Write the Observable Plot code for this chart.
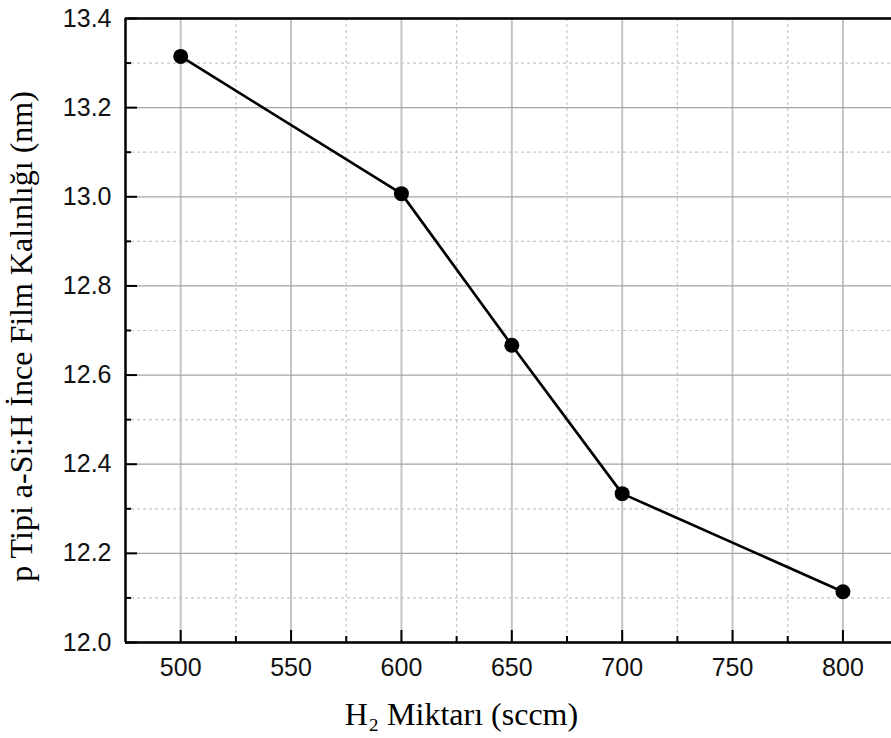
<!DOCTYPE html>
<html>
<head>
<meta charset="utf-8">
<script src="https://cdn.jsdelivr.net/npm/d3@7"></script>
<script src="https://cdn.jsdelivr.net/npm/@observablehq/plot@0.6"></script>
<style>
  html, body { margin: 0; padding: 0; background: #fff; }
</style>
</head>
<body>
<div id="chart"></div>
<script>
// H2 flow (sccm) and resulting p-type a-Si:H film thickness (nm)
const h2Flow = [500, 600, 650, 700, 800];
const filmThickness = [13.315, 13.007, 12.667, 12.334, 12.114];

// Axis ticks
const xMajorTicks = [500, 550, 600, 650, 700, 750, 800];
const xMinorTicks = [525, 575, 625, 675, 725, 775];
const yMajorTicks = [12.0, 12.2, 12.4, 12.6, 12.8, 13.0, 13.2, 13.4];
const yMinorTicks = [12.1, 12.3, 12.5, 12.7, 12.9, 13.1, 13.3];

const xTitle = "H\u2082 Miktarı (sccm)";
const yTitle = "p Tipi a-Si:H İnce Film Kalınlığı (nm)";

const rows = h2Flow.map((h, i) => ({h2: h, thickness: filmThickness[i]}));

const sans = "'Liberation Sans', Arial, sans-serif";
const serif = "'Liberation Serif', 'Times New Roman', serif";

const chart = Plot.plot({
  width: 891,
  height: 738,
  marginTop: 18,
  marginBottom: 96,
  marginLeft: 125,
  marginRight: 0,
  style: {background: "white", fontFamily: sans, overflow: "visible"},
  x: {domain: [475, 822], label: null},
  y: {domain: [12.0, 13.4], label: null},
  marks: [
    // minor grid
    Plot.gridX(xMinorTicks, {stroke: "#c8c8c8", strokeOpacity: 1, strokeWidth: 1.2, strokeDasharray: "3,3"}),
    Plot.gridY(yMinorTicks, {stroke: "#c8c8c8", strokeOpacity: 1, strokeWidth: 1.2, strokeDasharray: "3,3"}),
    // major grid
    Plot.gridX(xMajorTicks, {stroke: "#c4c4c4", strokeOpacity: 1, strokeWidth: 2}),
    Plot.gridY(yMajorTicks, {stroke: "#a4a4a4", strokeOpacity: 1, strokeWidth: 1.3}),
    // inward tick marks
    Plot.axisX(xMajorTicks, {tickSize: -12, tickFormat: () => "", strokeWidth: 2, stroke: "black", label: null}),
    Plot.axisX(xMinorTicks, {tickSize: -6, tickFormat: () => "", strokeWidth: 2, stroke: "black", label: null}),
    Plot.axisY(yMajorTicks, {tickSize: -12, tickFormat: () => "", strokeWidth: 2, stroke: "black", label: null}),
    Plot.axisY(yMinorTicks, {tickSize: -6, tickFormat: () => "", strokeWidth: 2, stroke: "black", label: null}),
    // tick labels
    Plot.axisX(xMajorTicks, {tickSize: 0, tickPadding: 16, fontSize: 25, fill: "#111", label: null}),
    Plot.axisY(yMajorTicks, {tickSize: 0, tickPadding: 14, fontSize: 25, fill: "#111", tickFormat: d3.format(".1f"), label: null}),
    // frame lines
    Plot.ruleX([475], {stroke: "black", strokeWidth: 2.5}),
    Plot.ruleY([12.0], {stroke: "black", strokeWidth: 2.5}),
    Plot.ruleY([13.4], {stroke: "black", strokeWidth: 2.5}),
    // data
    Plot.line(rows, {x: "h2", y: "thickness", stroke: "black", strokeWidth: 2.7}),
    Plot.dot(rows, {x: "h2", y: "thickness", r: 7.5, fill: "black", stroke: "none"}),
    // titles
    Plot.text([xTitle], {frameAnchor: "bottom", dx: -47, dy: 82, lineAnchor: "bottom", textAnchor: "middle", fontSize: 32, fontFamily: serif, fill: "black"}),
    Plot.text([yTitle], {frameAnchor: "left", dx: -94, dy: 6, rotate: -90, lineAnchor: "bottom", textAnchor: "middle", fontSize: 32, fontFamily: serif, fill: "black"})
  ]
});

document.getElementById("chart").appendChild(chart);
</script>
</body>
</html>
